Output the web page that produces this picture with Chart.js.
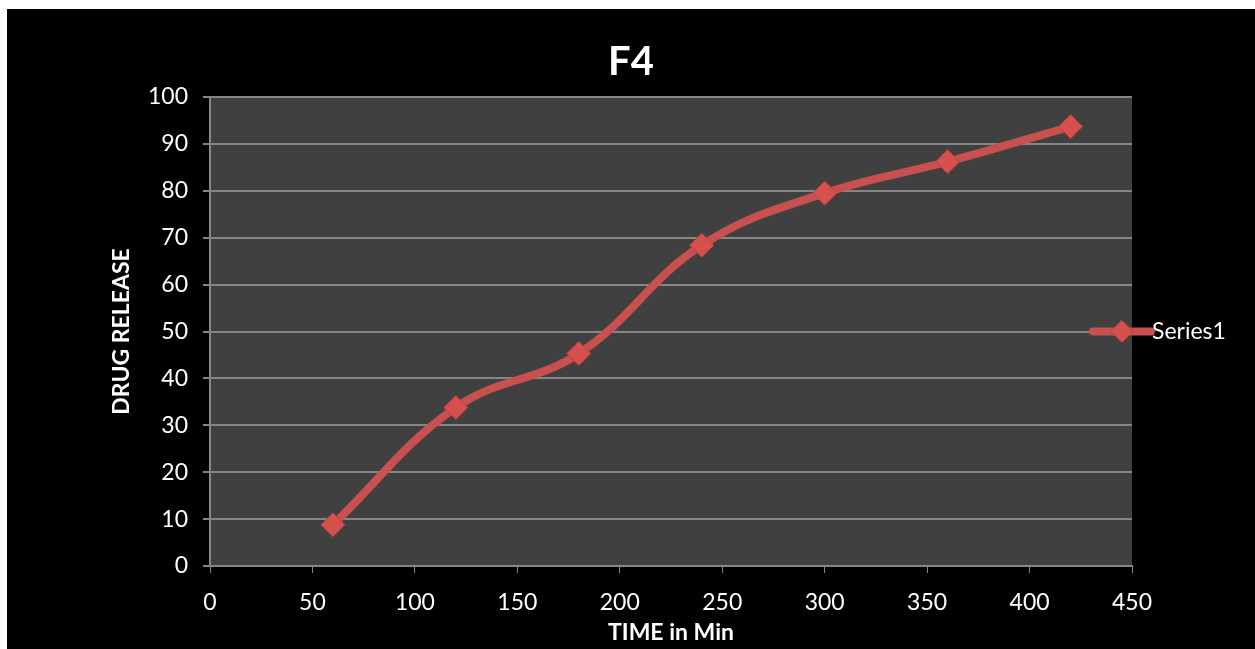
<!DOCTYPE html>
<html>
<head>
<meta charset="utf-8">
<title>F4</title>
<script src="https://cdn.jsdelivr.net/npm/chart.js@4/dist/chart.umd.min.js"></script>
<style>
  html, body { margin: 0; padding: 0; background: #ffffff; }
  #frame { position: absolute; left: 7px; top: 9px; width: 1248px; height: 640px; background: #000000; }
  #chart { display: block; }
</style>
</head>
<body>
<div id="frame"><canvas id="chart" width="1248" height="640"></canvas></div>
<script>
// Release profile of formulation F4
const timeMin = [60, 120, 180, 240, 300, 360, 420];
const drugRelease = [8.8, 33.8, 45.3, 68.4, 79.5, 86.2, 93.7];
const seriesName = 'Series1';
const chartTitle = 'F4';
const xAxisTitle = 'TIME in Min';
const yAxisTitle = 'DRUG RELEASE';
const xTicks = [0, 50, 100, 150, 200, 250, 300, 350, 400, 450];
const yTicks = [0, 10, 20, 30, 40, 50, 60, 70, 80, 90, 100];

const FONT = 'Lato, "Open Sans", sans-serif';
const LINE_RED = '#c8504e';
const POINT_RED = '#d6504d';

// Dark plot background behind the grid
const plotBackground = {
  id: 'plotBackground',
  beforeDraw(chart) {
    const { ctx, chartArea: a } = chart;
    ctx.save();
    ctx.fillStyle = '#404040';
    ctx.fillRect(a.left, a.top, a.right - a.left, a.bottom - a.top);
    ctx.restore();
  }
};

// Legend on the right: a thick line sample with a diamond marker
const sideLegend = {
  id: 'sideLegend',
  afterDraw(chart) {
    const { ctx, chartArea: a } = chart;
    const y = (a.top + a.bottom) / 2;
    const x0 = a.right - 39, x1 = a.right + 19;
    ctx.save();
    ctx.strokeStyle = LINE_RED;
    ctx.lineWidth = 8;
    ctx.lineCap = 'round';
    ctx.beginPath();
    ctx.moveTo(x0, y);
    ctx.lineTo(x1, y);
    ctx.stroke();
    const cx = (x0 + x1) / 2, r = 11;
    ctx.fillStyle = POINT_RED;
    ctx.strokeStyle = '#b8403e';
    ctx.lineWidth = 1;
    ctx.beginPath();
    ctx.moveTo(cx, y - r);
    ctx.lineTo(cx + r, y);
    ctx.lineTo(cx, y + r);
    ctx.lineTo(cx - r, y);
    ctx.closePath();
    ctx.fill();
    ctx.stroke();
    ctx.fillStyle = '#ffffff';
    ctx.font = '23px ' + FONT;
    ctx.textAlign = 'left';
    ctx.textBaseline = 'middle';
    ctx.fillText(seriesName, x1 + 1, y);
    ctx.restore();
  }
};

new Chart(document.getElementById('chart'), {
  type: 'line',
  data: {
    labels: timeMin,
    datasets: [{
      label: seriesName,
      data: timeMin.map((t, i) => ({ x: t, y: drugRelease[i] })),
      borderColor: LINE_RED,
      borderWidth: 8,
      borderCapStyle: 'round',
      tension: 0.4,
      pointStyle: 'rectRot',
      pointRadius: 12,
      pointHoverRadius: 12,
      pointBackgroundColor: POINT_RED,
      pointBorderColor: '#b8403e',
      pointBorderWidth: 1
    }]
  },
  options: {
    responsive: false,
    animation: false,
    events: [],
    layout: { padding: 0 },
    plugins: {
      legend: { display: false },
      tooltip: { enabled: false },
      title: {
        display: true,
        text: chartTitle,
        color: '#ffffff',
        font: { family: FONT, size: 40, weight: 'bold', lineHeight: 1.2 },
        padding: { top: 29, bottom: 11 }
      }
    },
    scales: {
      x: {
        type: 'linear',
        min: xTicks[0],
        max: xTicks[xTicks.length - 1],
        afterBuildTicks(scale) { scale.ticks = xTicks.map(v => ({ value: v })); },
        afterFit(scale) { scale.height = 83; },
        grid: { drawOnChartArea: false, drawTicks: true, tickLength: 7, color: '#868686', tickColor: '#868686' },
        border: { display: true, color: '#868686', width: 2 },
        ticks: { color: '#ffffff', font: { family: FONT, size: 23 }, padding: 16, maxRotation: 0 },
        title: {
          display: true,
          text: xAxisTitle,
          color: '#ffffff',
          font: { family: FONT, size: 23, weight: 'bold', lineHeight: 1.2 },
          padding: { top: 0, bottom: 3 }
        }
      },
      y: {
        type: 'linear',
        min: yTicks[0],
        max: yTicks[yTicks.length - 1],
        afterBuildTicks(scale) { scale.ticks = yTicks.map(v => ({ value: v })); },
        afterFit(scale) { scale.width = 203; },
        grid: { drawOnChartArea: true, drawTicks: true, tickLength: 7, color: '#868686', tickColor: '#868686', lineWidth: 2 },
        border: { display: true, color: '#868686', width: 2 },
        ticks: { color: '#ffffff', font: { family: FONT, size: 23 }, padding: 15 },
        title: {
          display: true,
          text: yAxisTitle,
          color: '#ffffff',
          font: { family: FONT, size: 23, weight: 'bold', lineHeight: 1.2 },
          padding: { top: 101, bottom: 0 }
        }
      },
      // Empty right-hand band reserved for the legend
      legendBand: {
        type: 'linear',
        position: 'right',
        min: yTicks[0],
        max: yTicks[yTicks.length - 1],
        afterFit(scale) { scale.width = 123; },
        grid: { display: false, drawOnChartArea: false },
        border: { display: false },
        ticks: { display: false }
      }
    }
  },
  plugins: [plotBackground, sideLegend]
});
</script>
</body>
</html>
